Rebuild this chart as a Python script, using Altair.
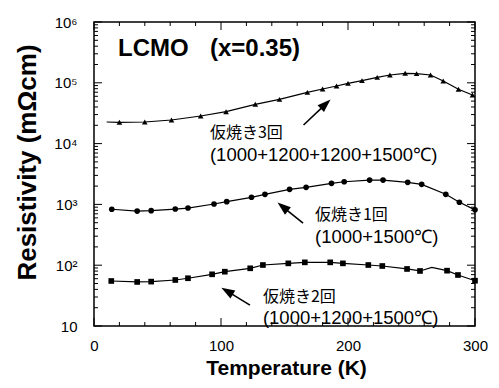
import altair as alt
import pandas as pd

# ---- data ----
tri_T = [10, 20, 40, 61, 84, 104, 127, 146, 168, 180, 191, 200, 211, 223, 233, 245, 254, 265, 275, 287, 298]
tri_R = [22650, 22390, 22650, 24430, 28440, 33500, 44260, 53460, 69660, 79070, 88510, 97720,
         108400, 123000, 134300, 143200, 141300, 134300, 107200, 78160, 63100]
tri_M = [0] + [1] * 20

cir_T = [14, 34, 45, 64, 74, 94.5, 104.5, 124, 134.6, 154, 167, 187, 197, 217, 227.6, 247, 258, 277, 287.7, 300]
cir_R = [832, 776, 789, 839, 871, 1016, 1109, 1309, 1466, 1770, 1910, 2223, 2360, 2512, 2512,
         2307, 2138, 1466, 1084, 813]
cir_M = [1] * 20

sq_T = [13.6, 34, 45, 64, 74, 93, 103, 123, 133, 153, 166, 186, 196, 216, 227, 246.5, 256.7, 266, 278, 286.6, 300]
sq_R = [55, 53, 53.7, 57.1, 61, 70.8, 78.2, 88.9, 100.7, 107.2, 111.4, 111.4, 107.2, 100.7, 97.0,
        86.7, 80.4, 92.3, 81.3, 69.0, 55.6]
sq_M = [1] * 17 + [0] + [1] * 3

title_txt = ["LCMO", "(x=0.35)"]
title_T = [18.9, 91.3]
title_R = [360000, 360000]

jp_txt = ["仮焼き3回", "仮焼き1回", "仮焼き2回"]
jp_T = [91.3, 174, 133]
jp_R = [14900, 670, 30]

par_txt = ["(1000+1200+1200+1500℃)", "(1000+1500℃)", "(1000+1200+1500℃)"]
par_T = [91.3, 174, 133]
par_R = [6494, 291, 13.5]

arr_tailT = [165, 164.6, 122.8]
arr_tailR = [20230, 494, 22.1]
arr_headT = [182.4, 148.6, 104.8]
arr_headR = [44670, 914, 37.5]
arr_ang = [47, 309, 301]

X_MAJOR = [0, 100, 200, 300]
X_MINOR = [20, 40, 60, 80, 120, 140, 160, 180, 220, 240, 260, 280]
Y_MAJOR = [10, 100, 1000, 10000, 100000, 1000000]
Y_MINOR = [m * d for d in Y_MAJOR[:-1] for m in range(2, 10)]

# ---- tables ----
rows = []
for name, Ts, Rs, Ms in [("tri", tri_T, tri_R, tri_M), ("cir", cir_T, cir_R, cir_M), ("sq", sq_T, sq_R, sq_M)]:
    for t, r, m in zip(Ts, Rs, Ms):
        rows.append({"series": name, "T": t, "R": r, "marker": m})
df = pd.DataFrame(rows)
df_title = pd.DataFrame({"T": title_T, "R": title_R, "txt": title_txt})
df_jp = pd.DataFrame({"T": jp_T, "R": jp_R, "txt": jp_txt})
df_par = pd.DataFrame({"T": par_T, "R": par_R, "txt": par_txt})
df_arr = pd.DataFrame({"T": arr_tailT, "R": arr_tailR, "T2": arr_headT, "R2": arr_headR, "ang": arr_ang})

W, H = 381, 304
xs = alt.Scale(domain=[0, 300], nice=False, zero=False)
ys = alt.Scale(type="log", domain=[10, 1000000], nice=False)

y_left = alt.Axis(
    orient="left", values=Y_MAJOR,
    labelExpr="datum.value == 10 ? '10' : datum.value == 100 ? '10²' : datum.value == 1000 ? '10³' : "
              "datum.value == 10000 ? '10⁴' : datum.value == 100000 ? '10⁵' : '10⁶'",
    labelFont="Liberation Sans", labelFontSize=15, labelColor="black", labelPadding=17,
    labelOverlap=False, labelFlush=False, ticks=False, tickSize=0, grid=False, domain=False,
    title="Resistivity (mΩcm)", titleFont="Liberation Sans", titleFontSize=26, titleFontWeight="bold",
    titleColor="black", titleX=-67, titleY=140, titleAngle=270, titleBaseline="middle", titleAlign="center")
x_bottom = alt.Axis(
    orient="bottom", values=X_MAJOR,
    labelFont="Liberation Sans", labelFontSize=15, labelColor="black", labelPadding=12,
    labelOverlap=False, labelFlush=False, ticks=False, tickSize=0, grid=False, domain=False,
    title="Temperature  (K)", titleFont="Liberation Sans", titleFontSize=21, titleFontWeight="bold",
    titleColor="black", titleX=192, titleY=42, titleBaseline="middle", titleAlign="center")


def X(field):
    return alt.X(field, type="quantitative", scale=xs, axis=x_bottom)


def Y(field):
    return alt.Y(field, type="quantitative", scale=ys, axis=y_left)


lines = alt.Chart(df).mark_line(color="black", strokeWidth=1.2).encode(
    x=X("T"), y=Y("R"), detail="series:N",
)

points = alt.Chart(df).transform_filter("datum.marker == 1").mark_point(
    filled=True, color="black", size=32, opacity=1).encode(
    x=X("T"), y=Y("R"),
    shape=alt.Shape("series:N", scale=alt.Scale(domain=["tri", "cir", "sq"],
                                                 range=["triangle-up", "circle", "square"]), legend=None),
)


def yticks(vals, a, b):
    return alt.Chart(pd.DataFrame({"v": vals})).mark_rule(color="black", strokeWidth=1).encode(
        y=Y("v"), x=alt.value(a), x2=alt.value(b))


def xticks(vals, a, b):
    return alt.Chart(pd.DataFrame({"v": vals})).mark_rule(color="black", strokeWidth=1).encode(
        x=X("v"), y=alt.value(a), y2=alt.value(b))


tick_layers = [
    yticks(Y_MAJOR, 0, 8), yticks(Y_MINOR, 0, 4),
    yticks(Y_MAJOR, W, W - 8), yticks(Y_MINOR, W, W - 4),
    xticks(X_MAJOR, H, H - 8), xticks(X_MINOR, H, H - 4),
    xticks(X_MAJOR, 0, 8), xticks(X_MINOR, 0, 4),
]

title = alt.Chart(df_title).mark_text(align="left", baseline="middle", font="Liberation Sans",
                                      fontSize=24, fontWeight="bold", color="black").encode(
    x=X("T"), y=Y("R"), text="txt:N")

jp = alt.Chart(df_jp).mark_text(align="left", baseline="middle", font="Noto Sans CJK JP",
                                fontSize=16, color="black").encode(
    x=X("T"), y=Y("R"), text="txt:N")

par = alt.Chart(df_par).mark_text(align="left", baseline="middle", font="Liberation Sans",
                                  fontSize=18.5, color="black").encode(
    x=X("T"), y=Y("R"), text="txt:N")

arr_line = alt.Chart(df_arr).mark_rule(color="black", strokeWidth=1.6).encode(
    x=X("T"), y=Y("R"), x2="T2:Q", y2="R2:Q")

arr_head = alt.Chart(df_arr).mark_point(shape="M0,-1L-0.7,1L0.7,1Z", filled=True, color="black",
                                        size=180, opacity=1).encode(
    x=X("T2"), y=Y("R2"), angle=alt.Angle("ang:Q", scale=None))

chart = alt.layer(lines, points, *tick_layers, title, jp, par, arr_line, arr_head).properties(
    width=W, height=H,
    autosize=alt.AutoSizeParams(type="none"),
    padding={"left": 86, "top": 14, "right": 16, "bottom": 54},
    background="white",
).configure_view(stroke="black", strokeWidth=1.5)

chart.save("out.html", embed_options={"renderer": "svg", "actions": False})
